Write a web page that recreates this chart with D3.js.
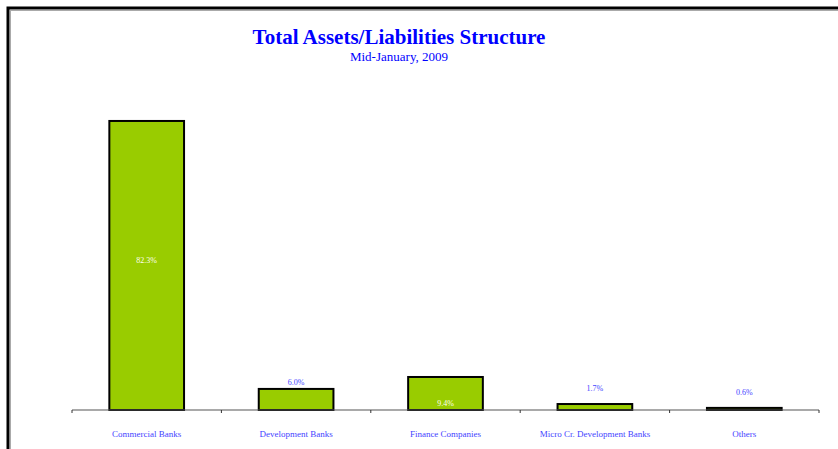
<!DOCTYPE html>
<html>
<head>
<meta charset="utf-8">
<script src="https://cdn.jsdelivr.net/npm/d3@7"></script>
<style>
  html, body { margin: 0; padding: 0; background: #fff; }
  svg { display: block; }
</style>
</head>
<body>
<svg id="chart" width="838" height="449"></svg>
<script>
const categories = ["Commercial Banks", "Development Banks", "Finance Companies", "Micro Cr. Development Banks", "Others"];
const shares = [82.3, 6.0, 9.4, 1.7, 0.6];
const shareLabels = ["82.3%", "6.0%", "9.4%", "1.7%", "0.6%"];
const labelPlacement = ["center", "above", "base", "aboveFar", "aboveFar"];

const svg = d3.select("#chart");
const W = 838, H = 449;
const serif = "'Liberation Serif', 'Times New Roman', serif";

// outer frame
svg.append("rect").attr("x", 8).attr("y", 8).attr("width", W + 20).attr("height", H + 20)
  .attr("fill", "#fff").attr("stroke", "#000").attr("stroke-width", 3);
svg.append("line").attr("x1", 10).attr("x2", W).attr("y1", 10.5).attr("y2", 10.5)
  .attr("stroke", "#aaa").attr("stroke-width", 1);
svg.append("line").attr("x1", 10.5).attr("x2", 10.5).attr("y1", 10).attr("y2", H)
  .attr("stroke", "#aaa").attr("stroke-width", 1);

const x0 = 72, x1 = 819, yBase = 410;
const x = d3.scaleBand().domain(categories).range([x0, x1]).paddingInner(0.5).paddingOuter(0.25);
const y = d3.scaleLinear().domain([0, 100]).range([yBase, yBase - 351.2]);

// titles
svg.append("text").attr("x", 399).attr("y", 44).attr("text-anchor", "middle")
  .attr("font-family", serif).attr("font-weight", "bold").attr("font-size", 21)
  .attr("fill", "#0000ff").text("Total Assets/Liabilities Structure");
svg.append("text").attr("x", 399).attr("y", 61).attr("text-anchor", "middle")
  .attr("font-family", serif).attr("font-size", 13)
  .attr("fill", "#0000ff").text("Mid-January, 2009");

// bars
svg.selectAll("rect.bar").data(shares).enter().append("rect")
  .attr("class", "bar")
  .attr("x", (d, i) => x(categories[i]))
  .attr("y", d => y(d))
  .attr("width", x.bandwidth())
  .attr("height", d => yBase - y(d))
  .attr("fill", "#99cc00")
  .attr("stroke", "#000")
  .attr("stroke-width", 2);

// axis
const axis = d3.axisBottom(x).tickSize(0).tickFormat("");
const gAxis = svg.append("g").attr("transform", `translate(0,${yBase})`).call(axis);
gAxis.select(".domain").attr("stroke", "#555").attr("stroke-width", 1.2).attr("d", `M${x0},0H${x1}`);
// boundary ticks
const bounds = d3.range(categories.length + 1).map(i => x0 + i * (x1 - x0) / categories.length);
gAxis.selectAll("line.bt").data(bounds).enter().append("line")
  .attr("class", "bt").attr("x1", d => d).attr("x2", d => d).attr("y1", 0).attr("y2", 3)
  .attr("stroke", "#333").attr("stroke-width", 1);

// category labels
svg.selectAll("text.cat").data(categories).enter().append("text")
  .attr("class", "cat")
  .attr("x", d => x(d) + x.bandwidth() / 2)
  .attr("y", 437)
  .attr("text-anchor", "middle")
  .attr("font-family", serif).attr("font-size", 9)
  .attr("fill", "#4444ff")
  .text(d => d);

// value labels
svg.selectAll("text.val").data(shares).enter().append("text")
  .attr("class", "val")
  .attr("x", (d, i) => x(categories[i]) + x.bandwidth() / 2)
  .attr("y", (d, i) => {
    const p = labelPlacement[i];
    if (p === "center") return (y(d) + yBase) / 2 - 2;
    if (p === "base") return yBase - 4;
    if (p === "above") return y(d) - 4;
    return y(d) - 13;
  })
  .attr("text-anchor", "middle")
  .attr("font-family", serif).attr("font-size", 8)
  .attr("fill", (d, i) => (labelPlacement[i] === "center" || labelPlacement[i] === "base") ? "#ffffee" : "#4444ff")
  .text((d, i) => shareLabels[i]);
</script>
</body>
</html>
